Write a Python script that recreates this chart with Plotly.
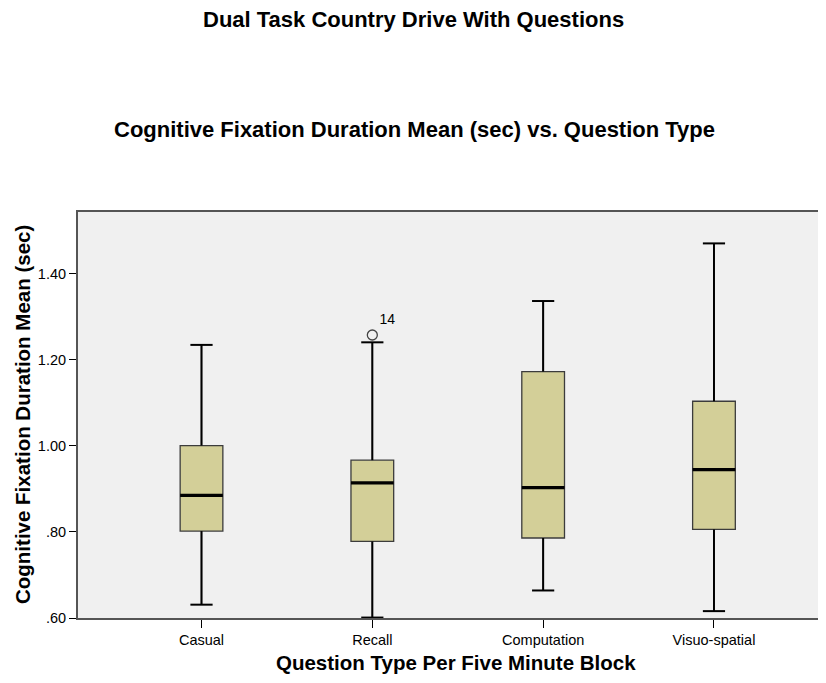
import plotly.graph_objects as go

categories = ["Casual", "Recall", "Computation", "Visuo-spatial"]
upper_whisker = [1.235, 1.241, 1.337, 1.471]
q3_values = [1.001, 0.967, 1.173, 1.104]
medians = [0.885, 0.914, 0.903, 0.945]
q1_values = [0.802, 0.778, 0.786, 0.806]
lower_whisker = [0.631, 0.601, 0.664, 0.616]
outlier_cat = [1]
outlier_val = [1.258]
outlier_lbl = ["14"]
ytick_vals = [0.6, 0.8, 1.0, 1.2, 1.4]
ytick_text = [".60", ".80", "1.00", "1.20", "1.40"]

pos = list(range(len(categories)))
box_w = 0.25
cap_w = 0.13

# The page body has an 8px margin; the figure is sized so that it fills the window.
OFF = 8
W, H = 826 - 2 * OFF, 683 - 2 * OFF
L, T, B = 78 - OFF, 212 - OFF, H - (618 - OFF)
plot_w, plot_h = W - L, H - T - B

fig = go.Figure()
fig.add_trace(go.Box(
    x=pos, q1=q1_values, median=medians, q3=q3_values,
    lowerfence=lower_whisker, upperfence=upper_whisker,
    width=box_w, fillcolor="#d3cf98",
    line=dict(color="#3c3c3c", width=1.3),
    whiskerwidth=0, boxpoints=False, hoverinfo="skip", showlegend=False,
))

wx, wy = [], []
for i in pos:
    wx += [i, i, None, i, i, None]
    wy += [q3_values[i], upper_whisker[i], None, q1_values[i], lower_whisker[i], None]
    wx += [i - cap_w / 2, i + cap_w / 2, None, i - cap_w / 2, i + cap_w / 2, None]
    wy += [upper_whisker[i], upper_whisker[i], None, lower_whisker[i], lower_whisker[i], None]
fig.add_trace(go.Scatter(x=wx, y=wy, mode="lines", line=dict(color="black", width=2),
                         hoverinfo="skip", showlegend=False, cliponaxis=False))
mx, my = [], []
for i in pos:
    mx += [i - box_w / 2, i + box_w / 2, None]
    my += [medians[i], medians[i], None]
fig.add_trace(go.Scatter(x=mx, y=my, mode="lines", line=dict(color="black", width=3.2),
                         hoverinfo="skip", showlegend=False))
fig.add_trace(go.Scatter(
    x=outlier_cat, y=outlier_val, mode="markers+text", text=outlier_lbl,
    textposition="top right",
    textfont=dict(size=14, color="black"),
    marker=dict(symbol="circle-open", size=10, color="#444444", line=dict(width=1.3)),
    hoverinfo="skip", showlegend=False,
))

font = "Liberation Sans, Arial, sans-serif"


def px_x(sx):
    return (sx - 78) / plot_w


def px_y(sy):
    return (618 - sy) / plot_h


fig.update_layout(
    width=W, height=H,
    paper_bgcolor="white", plot_bgcolor="#f0f0f0",
    margin=dict(l=L, r=0, t=T, b=B, pad=0),
    font=dict(family=font, color="black"),
    xaxis=dict(
        range=[-0.723, 3.609], tickvals=pos, ticktext=categories,
        tickfont=dict(size=14.5), ticks="outside", ticklen=8, tickcolor="black",
        showline=True, linecolor="#555555", linewidth=2, mirror=True,
        showgrid=False, zeroline=False,
    ),
    yaxis=dict(
        range=[0.6, 1.544], tickvals=ytick_vals, ticktext=ytick_text,
        tickfont=dict(size=14.5), ticks="outside", ticklen=7, tickcolor="black",
        showline=True, linecolor="#555555", linewidth=2, mirror=False,
        showgrid=False, zeroline=False,
    ),
    annotations=[
        dict(text="<b>Dual Task Country Drive With Questions</b>", x=px_x(413.5), y=px_y(20),
             xref="paper", yref="paper", xanchor="center", yanchor="middle",
             showarrow=False, font=dict(size=22)),
        dict(text="<b>Cognitive Fixation Duration Mean (sec) vs. Question Type</b>",
             x=px_x(414), y=px_y(130), xref="paper", yref="paper",
             xanchor="center", yanchor="middle", showarrow=False, font=dict(size=22)),
        dict(text="<b>Question Type Per Five Minute Block</b>", x=px_x(456), y=px_y(662),
             xref="paper", yref="paper", xanchor="center", yanchor="middle",
             showarrow=False, font=dict(size=20.5)),
        dict(text="<b>Cognitive Fixation Duration Mean (sec)</b>", x=px_x(22), y=px_y(415),
             xref="paper", yref="paper", xanchor="center", yanchor="middle",
             textangle=-90, showarrow=False, font=dict(size=20.5)),
    ],
)

fig.write_html("out.html")
